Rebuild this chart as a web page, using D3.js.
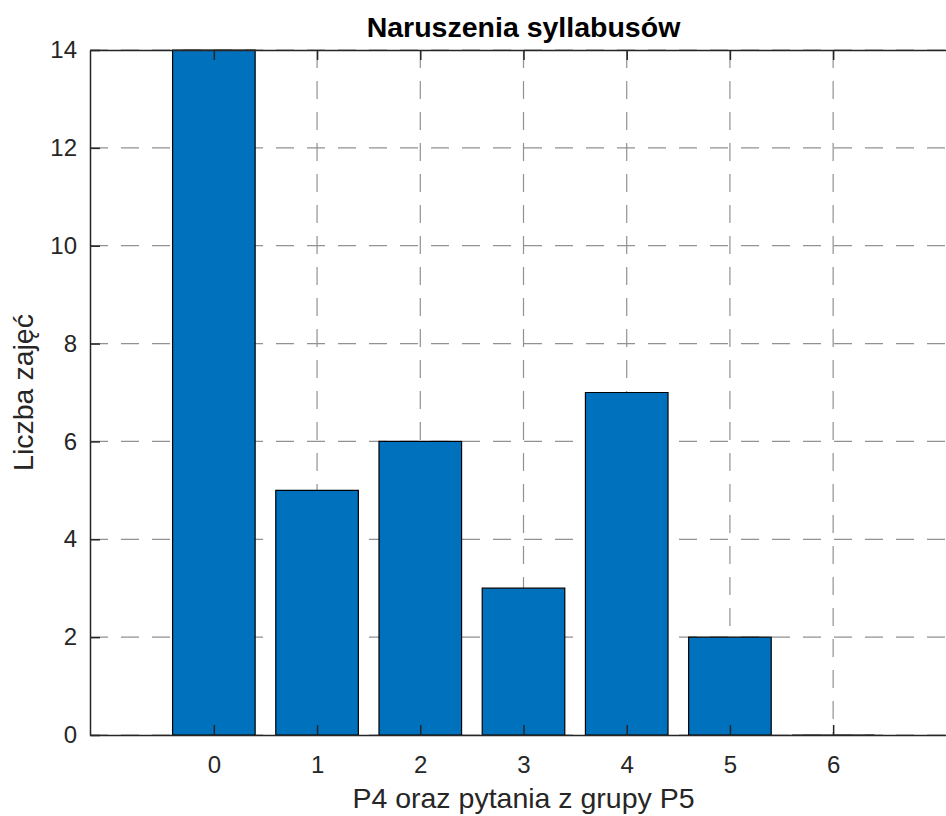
<!DOCTYPE html>
<html>
<head>
<meta charset="utf-8">
<script src="https://cdn.jsdelivr.net/npm/d3@7"></script>
<style>
  body { margin: 0; background: #fff; }
  text { font-family: "Liberation Sans", Arial, sans-serif; fill: #262626; }
</style>
</head>
<body>
<svg id="chart" width="946" height="816"></svg>
<script>
// data
var categories = [0, 1, 2, 3, 4, 5, 6];
var counts = [14, 5, 6, 3, 7, 2, 0];
var yTicks = [0, 2, 4, 6, 8, 10, 12, 14];

var svg = d3.select("#chart");
var plotLeft = 90, plotTop = 50, plotBottom = 735;

var x = d3.scaleLinear().domain([-1.2, 7.2]).range([plotLeft, 957]);
var y = d3.scaleLinear().domain([0, 14]).range([plotBottom, plotTop]);
var plotRight = x(7.2);

// grid
var grid = svg.append("g")
    .attr("stroke", "#7f7f7f")
    .attr("stroke-width", 1.2)
    .attr("stroke-dasharray", "18,13")
    .attr("opacity", 0.85);
grid.selectAll("line.h")
    .data(yTicks)
    .enter()
    .append("line")
    .attr("class", "h")
    .attr("x1", plotLeft)
    .attr("x2", plotRight)
    .attr("y1", function (d) { return y(d); })
    .attr("y2", function (d) { return y(d); });
grid.selectAll("line.v")
    .data(categories)
    .enter()
    .append("line")
    .attr("class", "v")
    .attr("y1", plotTop)
    .attr("y2", plotBottom)
    .attr("x1", function (d) { return x(d); })
    .attr("x2", function (d) { return x(d); });

// bars (path so that a zero bar still shows its edge)
svg.append("g").selectAll("path")
    .data(counts)
    .enter()
    .append("path")
    .attr("d", function (d, i) {
        var x0 = x(categories[i] - 0.4), x1 = x(categories[i] + 0.4);
        return "M" + x0 + "," + y(0) + "V" + y(d) + "H" + x1 + "V" + y(0) + "Z";
    })
    .attr("fill", "#0072BD")
    .attr("stroke", "#000")
    .attr("stroke-width", 1.2);

// axes (ticks inside)
var yAxis = d3.axisLeft(y).tickValues(yTicks).tickSize(-10).tickSizeOuter(0).tickPadding(13).tickFormat(d3.format("d"));
var xAxis = d3.axisBottom(x).tickValues(categories).tickSize(-10).tickSizeOuter(0).tickPadding(21).tickFormat(d3.format("d"));
var xTop = d3.axisTop(x).tickValues(categories).tickSize(-10).tickSizeOuter(0).tickFormat("");

function styleAxis(g) {
    g.select(".domain").attr("stroke", "#262626").attr("stroke-width", 1.5);
    g.selectAll(".tick line").attr("stroke", "#262626").attr("stroke-width", 1.5);
    g.selectAll(".tick text")
        .style("font-family", "'Liberation Sans', Arial, sans-serif")
        .style("font-size", "24px")
        .attr("fill", "#262626");
}

svg.append("g").attr("transform", "translate(" + plotLeft + ",0)").call(yAxis).call(styleAxis);
svg.append("g").attr("transform", "translate(0," + plotBottom + ")").call(xAxis).call(styleAxis);
svg.append("g").attr("transform", "translate(0," + plotTop + ")").call(xTop).call(styleAxis);

// labels
var mid = x(3);
svg.append("text")
    .attr("x", mid)
    .attr("y", 37)
    .attr("text-anchor", "middle")
    .style("font-size", "28.5px")
    .style("font-weight", "bold")
    .style("fill", "#000")
    .text("Naruszenia syllabusów");

svg.append("text")
    .attr("x", mid)
    .attr("y", 808)
    .attr("text-anchor", "middle")
    .style("font-size", "28.5px")
    .text("P4 oraz pytania z grupy P5");

svg.append("text")
    .attr("transform", "translate(33," + ((plotTop + plotBottom) / 2) + ") rotate(-90)")
    .attr("text-anchor", "middle")
    .style("font-size", "28.5px")
    .text("Liczba zajęć");
</script>
</body>
</html>
